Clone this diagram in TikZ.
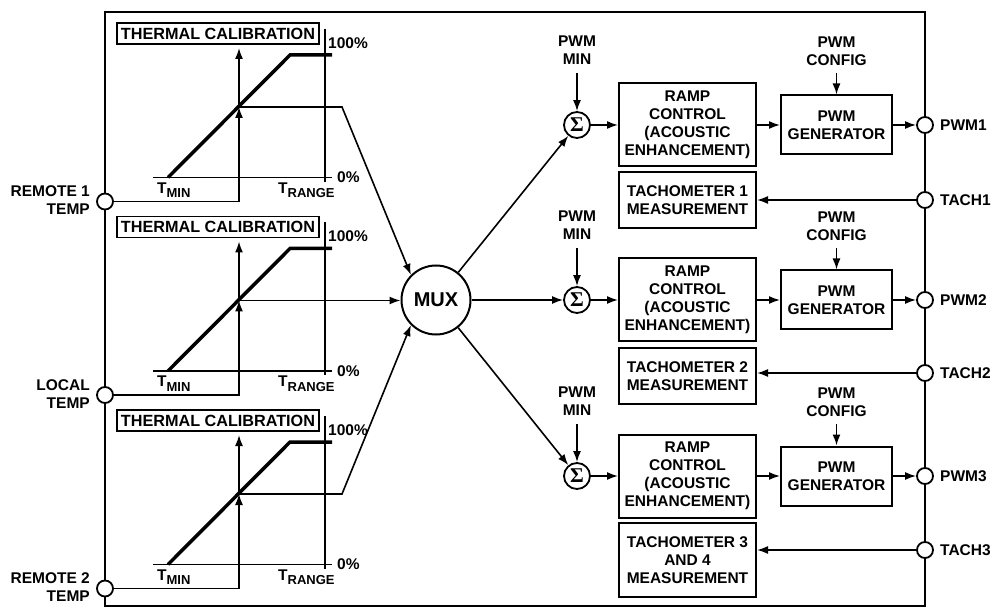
\documentclass[tikz,border=0pt]{standalone}
\usepackage{fontspec}
\setmainfont{Liberation Sans}
\newfontfamily\sigmafont{Liberation Serif}
\usetikzlibrary{arrows.meta}
\begin{document}
\begin{tikzpicture}[x=1pt,y=-1pt,
  every node/.style={font=\fontsize{15.5}{18}\selectfont\bfseries, inner sep=0pt},
  blk/.style={draw, line width=2pt, align=center},
  pin/.style={draw, circle, fill=white, line width=1.8pt, minimum size=16pt},
  thin/.style={line width=1.6pt},
  arr/.style={thin, -{Latex[length=11pt,width=8pt]}},
  rampline/.style={line width=3.5pt},
  lbl/.style={align=center}]
\useasboundingbox (0,0) rectangle (993,609);
\fill[white] (0,0) rectangle (993,609);
\draw[line width=2.5pt] (105,12) rectangle (925,606);
% MUX
\node[draw, circle, line width=2pt, minimum size=69pt, font=\fontsize{20}{20}\selectfont\bfseries] (mux) at (436,300) {MUX};
% thermal calibration blocks
\foreach \i/\dy/\name in {1/0/REMOTE 1\\TEMP, 2/193.5/LOCAL\\TEMP, 3/387/REMOTE 2\\TEMP}{
  \node[blk, line width=1.8pt, minimum width=202pt, minimum height=21pt, font=\fontsize{16.2}{18}\selectfont\bfseries] (cal\i) at (218,33.5+\dy) {THERMAL CALIBRATION};
  \draw[thin] (153,177.5+\dy) -- (332,177.5+\dy);
  \draw[thin] (325,29+\dy) -- (325,182+\dy);
  \draw[rampline] (168,177.5+\dy) -- (290,55+\dy) -- (332,55+\dy);
  \node[anchor=west] (hi\i) at (328,43+\dy) {100\%};
  \node[anchor=west] (lo\i) at (337,177.5+\dy) {0\%};
  \node[anchor=west] (tmin\i) at (157,190+\dy) {T\raisebox{-4.5pt}{\fontsize{13}{13}\selectfont MIN}};
  \node[anchor=west] (trng\i) at (278,190+\dy) {T\raisebox{-4.5pt}{\fontsize{13}{13}\selectfont RANGE}};
  \node[pin] (in\i) at (105,201.5+\dy) {};
  \node[anchor=east, align=right] (ll\i) at (90,200.5+\dy) {\name};
  \coordinate (x\i) at (239,107+\dy);
  \coordinate (top\i) at (239,48+\dy);
  \draw[arr] (in\i) -| (x\i);
  \draw[arr] (x\i) -- (top\i);
}
\coordinate (o1) at (342,107);
\coordinate (o3) at (342,494);
\draw[arr] (x1) -- (o1) -- (mux.135);
\draw[arr] (x2) -- (x2 -| mux.west);
\draw[arr] (x3) -- (o3) -- (mux.225);
% fan channels
\foreach \r/\yc/\tby/\hh/\tcy/\tx in {1/125/200/56/200/TACHOMETER 1\\MEASUREMENT, 2/300/376/56/373/TACHOMETER 2\\MEASUREMENT, 3/476/560/74/550/TACHOMETER 3\\AND 4\\MEASUREMENT}{
  \node[draw, circle, line width=1.8pt, minimum size=26pt] (s\r) at (577,\yc) {\sigmafont\fontsize{21}{21}\selectfont\bfseries Σ};
  \node[lbl] (pml\r) at (577,\yc-75) {PWM\\MIN};
  \coordinate (pm\r) at (577,\yc-52);
  \draw[arr] (pm\r) -- (s\r);
  \node[blk, minimum width=137pt, minimum height=83pt] (rc\r) at (687.5,\yc) {RAMP\\CONTROL\\(ACOUSTIC\\ENHANCEMENT)};
  \node[blk, minimum width=137pt, minimum height=\hh pt] (tm\r) at (687.5,\tby) {\tx};
  \node[blk, minimum width=111pt, minimum height=59pt] (pg\r) at (836.5,\yc) {PWM\\GENERATOR};
  \node[lbl] (pcl\r) at (836.5,\yc-74) {PWM\\CONFIG};
  \coordinate (pc\r) at (836.5,\yc-52);
  \draw[arr] (pc\r) -- (pg\r);
  \node[pin] (pw\r) at (925,\yc) {};
  \node[anchor=west] (pwl\r) at (940,\yc) {PWM\r};
  \node[pin] (tc\r) at (925,\tcy) {};
  \node[anchor=west] (tcl\r) at (940,\tcy) {TACH\r};
  \draw[arr] (mux) -- (s\r);
  \draw[arr] (s\r) -- (rc\r);
  \draw[arr] (rc\r) -- (pg\r);
  \draw[arr] (pg\r) -- (pw\r);
  \draw[arr] (tc\r) -- (tc\r -| tm\r.east);
}
\end{tikzpicture}
\end{document}
